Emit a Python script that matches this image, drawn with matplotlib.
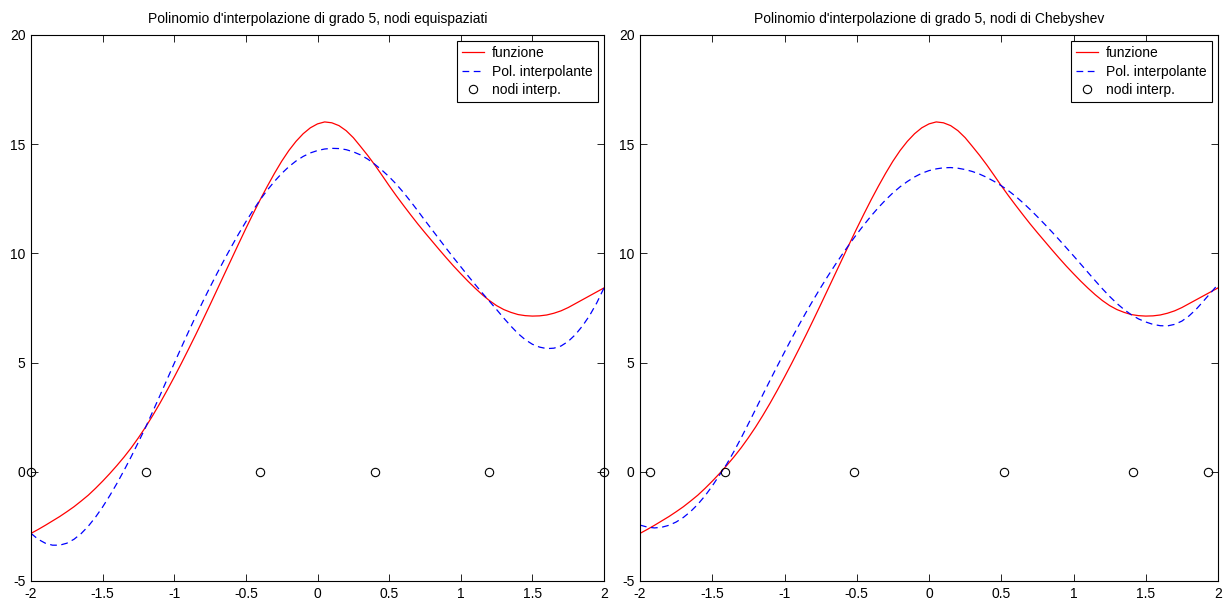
import matplotlib
matplotlib.use("Agg")
import matplotlib.pyplot as plt

plt.rcParams['font.family'] = ['Liberation Sans', 'DejaVu Sans']
plt.rcParams['axes.unicode_minus'] = False

# sample abscissae
x = [-2.00, -1.95, -1.90, -1.85, -1.80, -1.75, -1.70, -1.65, -1.60, -1.55,
     -1.50, -1.45, -1.40, -1.35, -1.30, -1.25, -1.20, -1.15, -1.10, -1.05,
     -1.00, -0.95, -0.90, -0.85, -0.80, -0.75, -0.70, -0.65, -0.60, -0.55,
     -0.50, -0.45, -0.40, -0.35, -0.30, -0.25, -0.20, -0.15, -0.10, -0.05,
     0.00, 0.05, 0.10, 0.15, 0.20, 0.25, 0.30, 0.35, 0.40, 0.45,
     0.50, 0.55, 0.60, 0.65, 0.70, 0.75, 0.80, 0.85, 0.90, 0.95,
     1.00, 1.05, 1.10, 1.15, 1.20, 1.25, 1.30, 1.35, 1.40, 1.45,
     1.50, 1.55, 1.60, 1.65, 1.70, 1.75, 1.80, 1.85, 1.90, 1.95, 2.00]

# function (red)
f_vals = [-2.82, -2.64, -2.45, -2.25, -2.05, -1.83, -1.60, -1.34, -1.07, -0.76,
          -0.43, -0.08, 0.29, 0.68, 1.10, 1.56, 2.05, 2.58, 3.14, 3.73,
          4.34, 4.97, 5.62, 6.28, 6.96, 7.65, 8.35, 9.05, 9.75, 10.45,
          11.14, 11.81, 12.46, 13.08, 13.67, 14.22, 14.71, 15.13, 15.48, 15.75,
          15.93, 16.02, 15.98, 15.85, 15.62, 15.30, 14.90, 14.49, 14.05, 13.58,
          13.10, 12.64, 12.20, 11.77, 11.35, 10.95, 10.56, 10.17, 9.79, 9.42,
          9.07, 8.73, 8.41, 8.11, 7.84, 7.61, 7.43, 7.30, 7.20, 7.15,
          7.13, 7.14, 7.18, 7.26, 7.37, 7.52, 7.70, 7.88, 8.06, 8.24, 8.42]

# interpolating polynomial, equispaced nodes (blue, left)
p_equi = [-2.82, -3.09, -3.27, -3.36, -3.36, -3.27, -3.09, -2.83, -2.49, -2.08,
          -1.61, -1.09, -0.53, 0.07, 0.70, 1.36, 2.04, 2.76, 3.49, 4.23,
          4.97, 5.70, 6.42, 7.12, 7.80, 8.46, 9.10, 9.72, 10.32, 10.90,
          11.45, 11.97, 12.46, 12.90, 13.30, 13.66, 13.97, 14.23, 14.44, 14.60,
          14.71, 14.78, 14.81, 14.80, 14.75, 14.65, 14.51, 14.32, 14.08, 13.81,
          13.51, 13.17, 12.79, 12.38, 11.95, 11.51, 11.08, 10.65, 10.22, 9.80,
          9.39, 8.98, 8.58, 8.19, 7.81, 7.43, 7.04, 6.67, 6.33, 6.05,
          5.84, 5.71, 5.64, 5.66, 5.76, 5.97, 6.28, 6.68, 7.16, 7.74, 8.42]

# interpolating polynomial, Chebyshev nodes (blue, right)
p_cheb = [-2.44, -2.53, -2.57, -2.54, -2.45, -2.30, -2.09, -1.82, -1.49, -1.10,
          -0.65, -0.15, 0.35, 0.93, 1.55, 2.20, 2.86, 3.53, 4.19, 4.84,
          5.48, 6.11, 6.72, 7.31, 7.88, 8.43, 8.96, 9.47, 9.96, 10.43,
          10.88, 11.31, 11.72, 12.10, 12.45, 12.77, 13.05, 13.29, 13.50, 13.67,
          13.79, 13.87, 13.92, 13.93, 13.90, 13.84, 13.75, 13.63, 13.48, 13.30,
          13.10, 12.87, 12.61, 12.32, 12.01, 11.68, 11.34, 10.99, 10.63, 10.26,
          9.89, 9.51, 9.13, 8.75, 8.38, 8.03, 7.71, 7.43, 7.19, 7.00,
          6.86, 6.75, 6.69, 6.68, 6.75, 6.90, 7.14, 7.45, 7.82, 8.20, 8.58]

nodes_equi = [-2.0, -1.2, -0.4, 0.4, 1.2, 2.0]
nodes_cheb = [-1.932, -1.414, -0.518, 0.518, 1.414, 1.932]
node_y = [0, 0, 0, 0, 0, 0]

titles = ["Polinomio d'interpolazione di grado 5, nodi equispaziati",
          "Polinomio d'interpolazione di grado 5, nodi di Chebyshev"]
legend_labels = ["funzione", "Pol. interpolante", "nodi interp."]
xticks = [-2, -1.5, -1, -0.5, 0, 0.5, 1, 1.5, 2]
xticklabels = ["-2", "-1.5", "-1", "-0.5", "0", "0.5", "1", "1.5", "2"]
yticks = [-5, 0, 5, 10, 15, 20]

W, H = 1227, 606
fig = plt.figure(figsize=(W / 100, H / 100), dpi=100)
ax1 = fig.add_axes([31 / W, (H - 581) / H, 573 / W, 546 / H])
ax2 = fig.add_axes([640 / W, (H - 581) / H, 578 / W, 546 / H])

for ax, poly, nodes, title in [(ax1, p_equi, nodes_equi, titles[0]),
                                (ax2, p_cheb, nodes_cheb, titles[1])]:
    ax.plot(x, f_vals, color='#ff0000', lw=0.9, label=legend_labels[0])
    ax.plot(x, poly, color='#0000ff', lw=0.9, linestyle=(0, (5.4, 3.6)),
            label=legend_labels[1])
    ax.plot(nodes, node_y, linestyle='none', marker='o', markersize=6,
            markerfacecolor='none', markeredgecolor='black', markeredgewidth=0.8,
            clip_on=False, label=legend_labels[2])
    ax.set_xlim(-2, 2)
    ax.set_ylim(-5, 20)
    ax.set_xticks(xticks)
    ax.set_xticklabels(xticklabels)
    ax.set_yticks(yticks)
    ax.tick_params(direction='in', length=5, width=0.6, top=True, right=True,
                   labelsize=10, pad=4)
    for s in ax.spines.values():
        s.set_linewidth(0.8)
    ax.set_title(title, fontsize=10, pad=9)
    leg = ax.legend(loc='upper right', fontsize=10, fancybox=False,
                    edgecolor='black', framealpha=1, borderaxespad=0.45,
                    handlelength=1.6, handletextpad=0.6, labelspacing=0.32,
                    borderpad=0.35)
    leg.get_frame().set_linewidth(0.8)

fig.savefig("out.png", dpi=100)
